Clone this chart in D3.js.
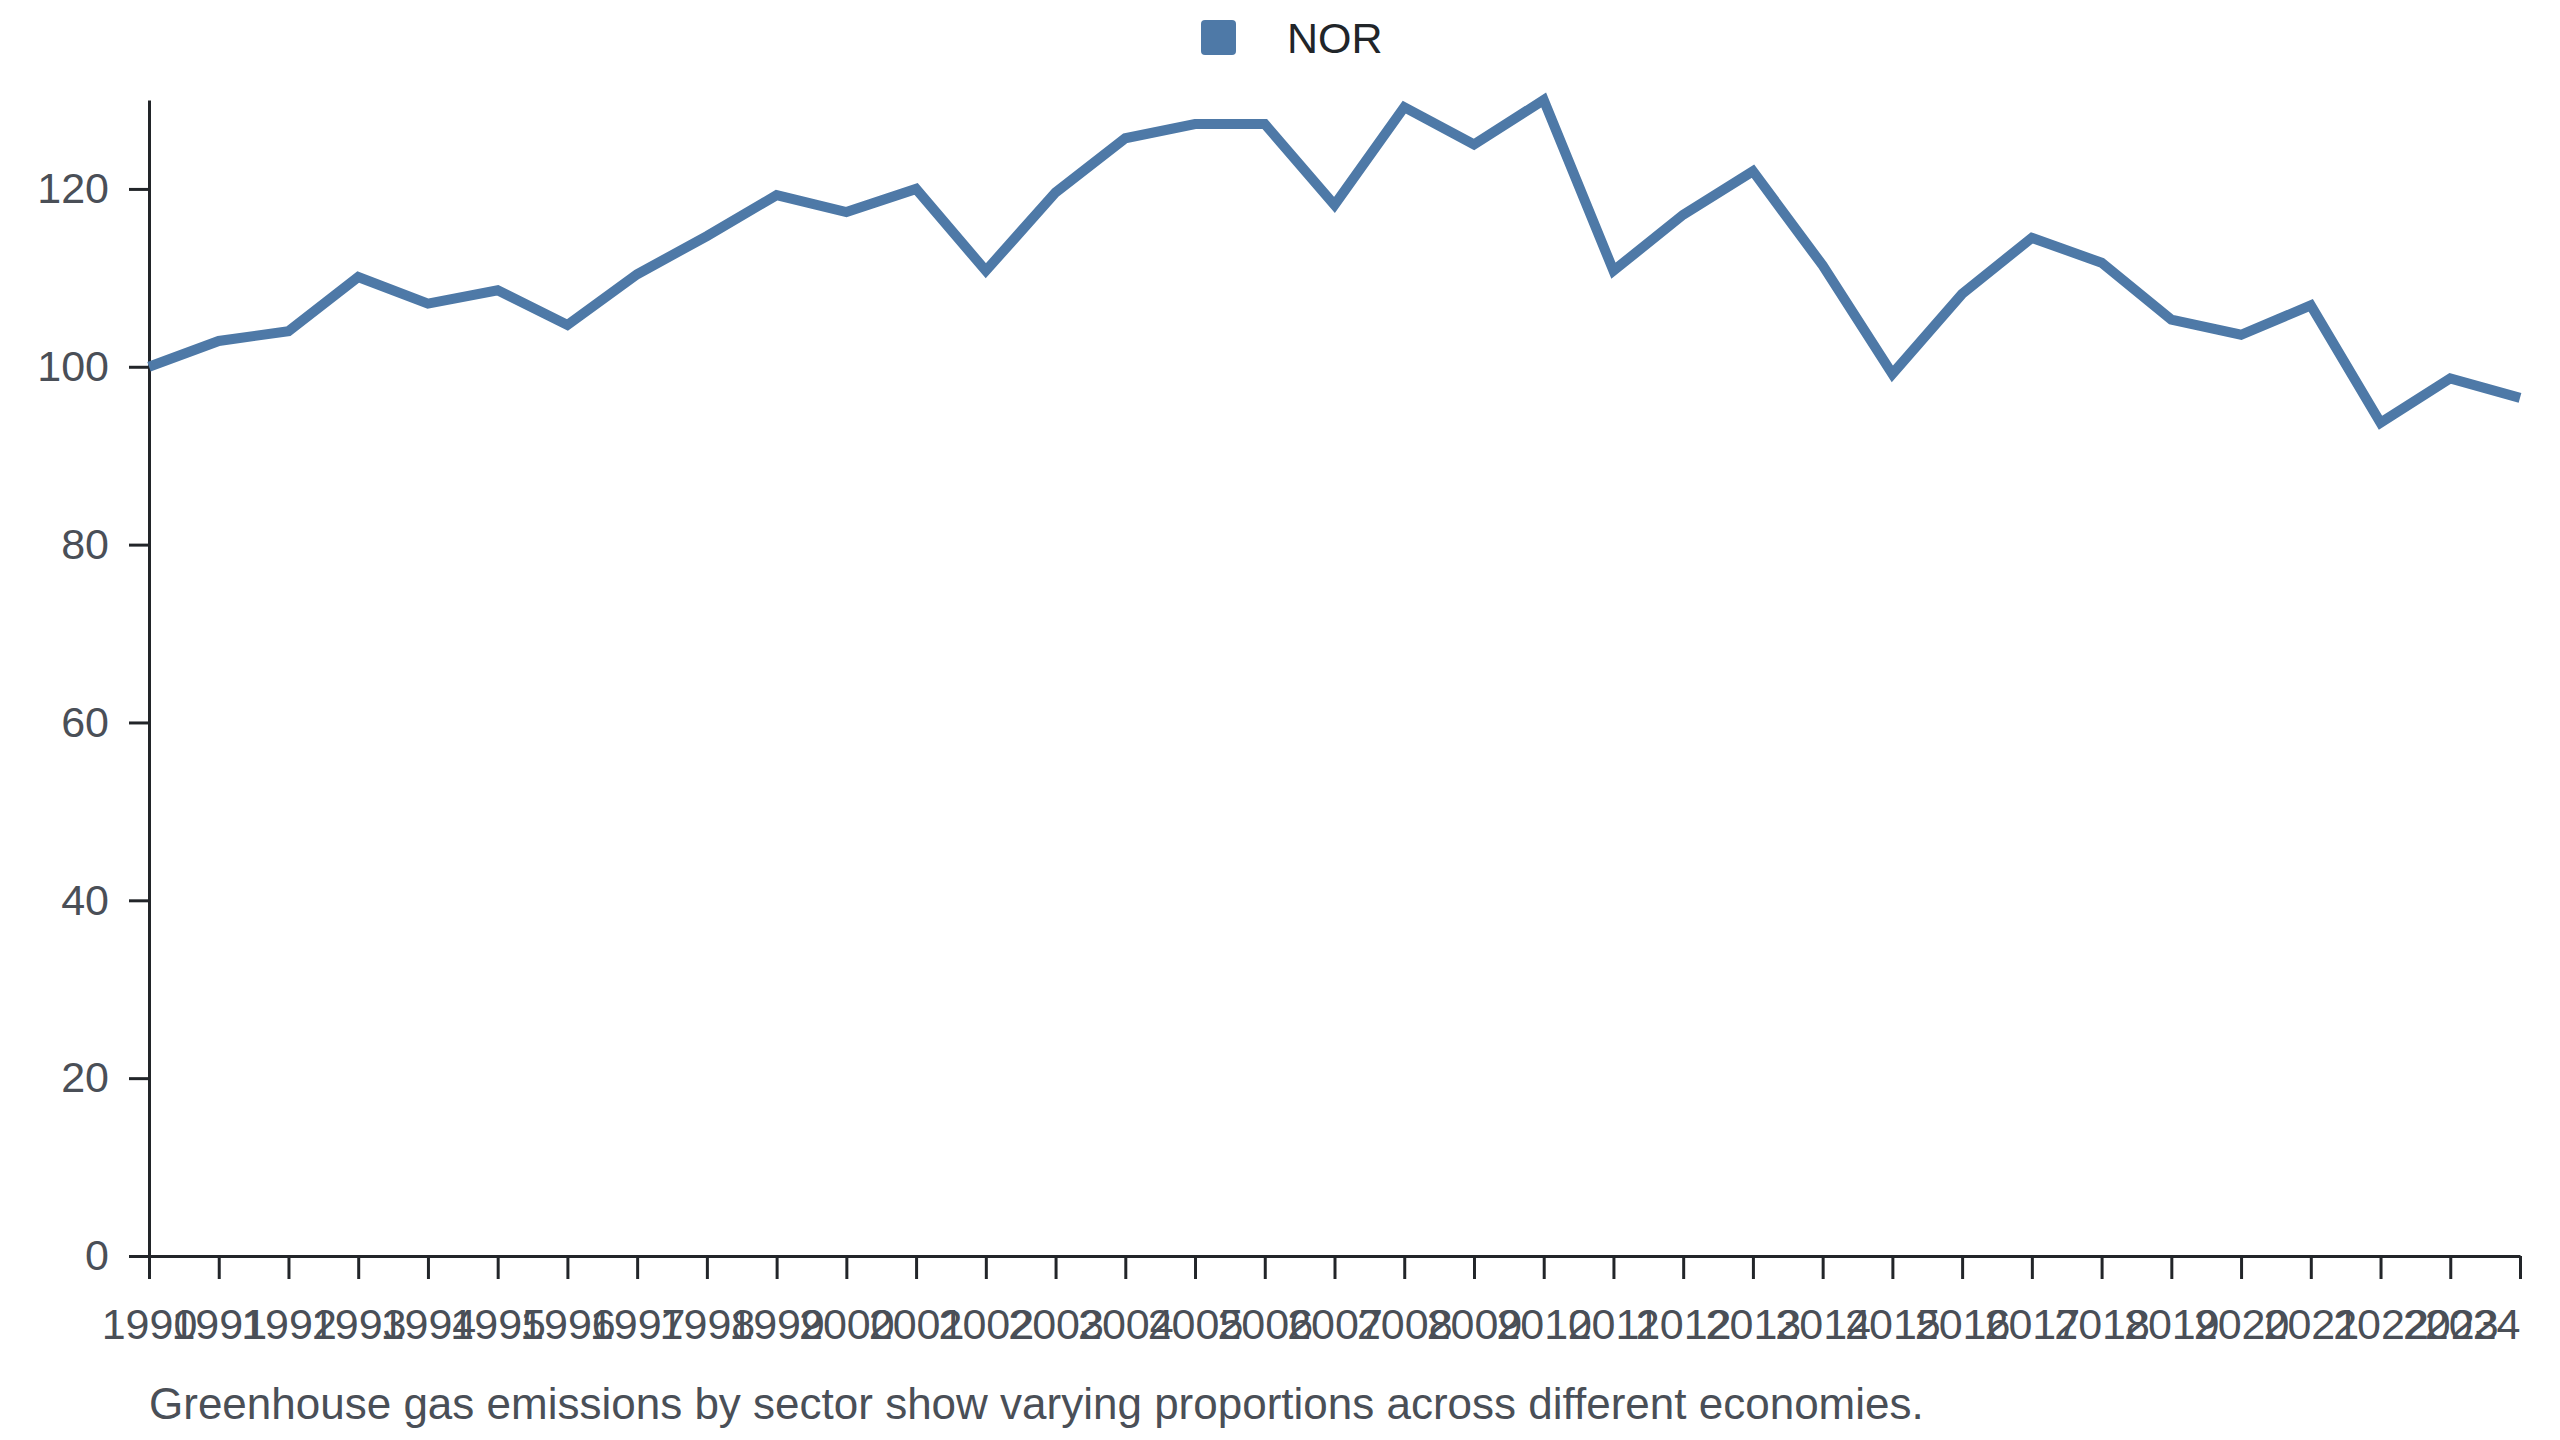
<!DOCTYPE html>
<html>
<head>
<meta charset="utf-8">
<script src="https://cdn.jsdelivr.net/npm/d3@7"></script>
<style>
  body { margin: 0; background: #fff; }
  svg { display: block; font-family: "Liberation Sans", Arial, sans-serif; }
</style>
</head>
<body>
<div id="chart"></div>
<script>
// data
const years = [1990, 1991, 1992, 1993, 1994, 1995, 1996, 1997, 1998, 1999,
               2000, 2001, 2002, 2003, 2004, 2005, 2006, 2007, 2008, 2009,
               2010, 2011, 2012, 2013, 2014, 2015, 2016, 2017, 2018, 2019,
               2020, 2021, 2022, 2023, 2024];
const norValues = [100.0, 102.9, 104.0, 110.1, 107.1, 108.6, 104.7, 110.4, 114.7, 119.3,
                   117.4, 120.0, 110.8, 119.6, 125.7, 127.3, 127.3, 118.2, 129.2, 125.0,
                   130.0, 110.8, 117.1, 122.0, 111.4, 99.2, 108.2, 114.5, 111.7, 105.3,
                   103.6, 106.9, 93.7, 98.7, 96.5];
const yTicks = [0, 20, 40, 60, 80, 100, 120];
const seriesName = "NOR";
const caption = "Greenhouse gas emissions by sector show varying proportions across different economies.";

const WIDTH = 2560, HEIGHT = 1440;
const margin = {top: 100, right: 40, bottom: 184, left: 149};
const innerW = 2520 - margin.left;
const innerH = HEIGHT - margin.top - margin.bottom;
const lineColor = "#4e79a7";
const textColor = "#4a4f57";

let svg = d3.select("#chart")
    .append("svg")
    .attr("width", WIDTH)
    .attr("height", HEIGHT);

let g = svg.append("g")
    .attr("transform", `translate(${margin.left}, ${margin.top})`);

let x = d3.scalePoint()
    .domain(years)
    .range([0, innerW]);

let y = d3.scaleLinear()
    .domain([0, d3.max(norValues)])
    .range([innerH, 0]);

// y axis
let yAxis = g.append("g")
    .call(d3.axisLeft(y).tickValues(yTicks).tickSize(20).tickPadding(20).tickSizeOuter(0));

// x axis
let xAxis = g.append("g")
    .attr("transform", `translate(0, ${innerH})`)
    .call(d3.axisBottom(x).tickSize(23).tickPadding(29).tickSizeOuter(0));

[yAxis, xAxis].forEach(function(ax) {
    ax.select(".domain").attr("stroke", "#222529").attr("stroke-width", 3);
    ax.selectAll(".tick line").attr("stroke", "#222529").attr("stroke-width", 3);
    ax.selectAll(".tick text")
        .attr("fill", textColor)
        .style("font-size", "43px")
        .style("font-family", "'Liberation Sans', Arial, sans-serif");
});

// last year label is pulled inside the plot
xAxis.selectAll(".tick text")
    .filter(function(d) { return d === years[years.length - 1]; })
    .attr("text-anchor", "end");

// the line
let line = d3.line()
    .x(function(d, i) { return x(years[i]); })
    .y(function(d) { return y(d); });

g.append("path")
    .datum(norValues)
    .attr("fill", "none")
    .attr("stroke", lineColor)
    .attr("stroke-width", 10)
    .attr("d", line);

// legend
let legend = svg.append("g").attr("transform", "translate(1201, 20)");
legend.append("rect")
    .attr("width", 35)
    .attr("height", 35)
    .attr("rx", 4)
    .attr("fill", lineColor);
legend.append("text")
    .attr("x", 86)
    .attr("y", 33)
    .attr("fill", "#212529")
    .style("font-size", "43px")
    .text(seriesName);

// caption under the chart
svg.append("text")
    .attr("x", margin.left)
    .attr("y", 1419)
    .attr("fill", textColor)
    .style("font-size", "44px")
    .text(caption);
</script>
</body>
</html>
